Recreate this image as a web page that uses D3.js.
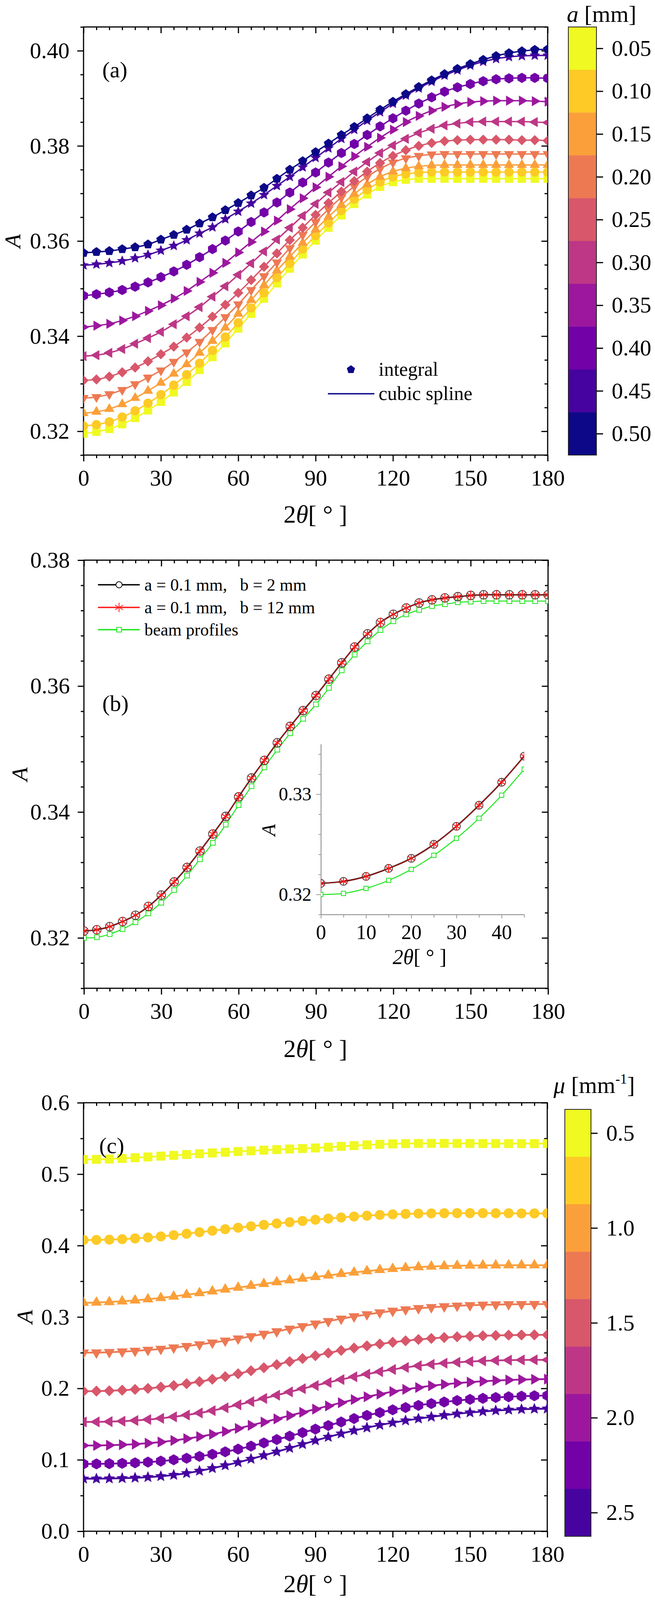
<!DOCTYPE html>
<html>
<head>
<meta charset="utf-8">
<script src="https://cdn.jsdelivr.net/npm/d3@7"></script>
<style>
  html, body { margin: 0; padding: 0; background: #fff; }
  svg { display: block; font-family: "Liberation Serif", "Times New Roman", serif; }
</style>
</head>
<body>
<svg id="fig" width="1678" height="4100"></svg>
<script>
// ---- data ----
const angles = [0,5,10,15,20,25,30,35,40,45,50,55,60,65,70,75,80,85,90,95,100,105,110,115,120,125,130,135,140,145,150,155,160,165,170,175,180];
const xMajor = [0,30,60,90,120,150,180];
const xMinor = [5,10,15,20,25,35,40,45,50,55,65,70,75,80,85,95,100,105,110,115,125,130,135,140,145,155,160,165,170,175];

// panel (a): slit width a [mm]
const aLabels = ['0.05','0.10','0.15','0.20','0.25','0.30','0.35','0.40','0.45','0.50'];
const a005 = [0.3195,0.3199,0.3205,0.3215,0.3228,0.3244,0.3262,0.3282,0.3304,0.3329,0.3356,0.3385,0.3416,0.3447,0.3479,0.3511,0.3542,0.3572,0.3601,0.3628,0.3654,0.3678,0.3698,0.3714,0.3724,0.3729,0.3731,0.3731,0.3731,0.3731,0.3731,0.3731,0.3731,0.3731,0.3731,0.3731,0.3731];
const a010 = [0.3211,0.3214,0.3220,0.3230,0.3243,0.3259,0.3277,0.3297,0.3319,0.3343,0.3370,0.3398,0.3428,0.3459,0.3491,0.3523,0.3553,0.3583,0.3611,0.3638,0.3664,0.3688,0.3708,0.3724,0.3735,0.3741,0.3744,0.3745,0.3745,0.3745,0.3745,0.3745,0.3745,0.3745,0.3745,0.3745,0.3745];
const a015 = [0.3238,0.3241,0.3247,0.3257,0.3270,0.3285,0.3302,0.3321,0.3341,0.3365,0.3390,0.3418,0.3447,0.3476,0.3507,0.3538,0.3567,0.3596,0.3624,0.3651,0.3676,0.3699,0.3719,0.3735,0.3746,0.3753,0.3757,0.3759,0.3760,0.3760,0.3760,0.3760,0.3760,0.3760,0.3760,0.3760,0.3760];
const a020 = [0.3270,0.3272,0.3278,0.3287,0.3299,0.3313,0.3328,0.3346,0.3366,0.3388,0.3413,0.3440,0.3467,0.3497,0.3526,0.3555,0.3585,0.3613,0.3640,0.3667,0.3692,0.3715,0.3735,0.3752,0.3765,0.3774,0.3779,0.3782,0.3783,0.3783,0.3783,0.3783,0.3783,0.3783,0.3783,0.3783,0.3783];
const a025 = [0.3307,0.3309,0.3315,0.3324,0.3334,0.3347,0.3362,0.3378,0.3397,0.3418,0.3441,0.3466,0.3491,0.3518,0.3546,0.3574,0.3602,0.3628,0.3655,0.3680,0.3704,0.3726,0.3746,0.3764,0.3779,0.3791,0.3800,0.3806,0.3810,0.3812,0.3813,0.3813,0.3813,0.3813,0.3812,0.3812,0.3811];
const a030 = [0.3358,0.3360,0.3365,0.3373,0.3384,0.3396,0.3409,0.3425,0.3442,0.3461,0.3483,0.3505,0.3529,0.3553,0.3578,0.3603,0.3628,0.3653,0.3678,0.3702,0.3724,0.3746,0.3766,0.3785,0.3801,0.3815,0.3827,0.3836,0.3843,0.3847,0.3850,0.3851,0.3851,0.3851,0.3851,0.3850,0.3849];
const a035 = [0.3419,0.3422,0.3426,0.3433,0.3442,0.3453,0.3465,0.3479,0.3495,0.3514,0.3533,0.3554,0.3576,0.3598,0.3620,0.3643,0.3667,0.3690,0.3713,0.3735,0.3757,0.3778,0.3798,0.3817,0.3834,0.3850,0.3863,0.3874,0.3882,0.3888,0.3892,0.3894,0.3895,0.3895,0.3895,0.3894,0.3893];
const a040 = [0.3485,0.3488,0.3492,0.3497,0.3504,0.3513,0.3524,0.3536,0.3550,0.3566,0.3583,0.3601,0.3620,0.3640,0.3660,0.3681,0.3702,0.3723,0.3744,0.3765,0.3785,0.3804,0.3823,0.3841,0.3858,0.3874,0.3889,0.3902,0.3914,0.3923,0.3930,0.3936,0.3940,0.3942,0.3943,0.3943,0.3942];
const a045 = [0.3549,0.3551,0.3554,0.3558,0.3564,0.3571,0.3580,0.3590,0.3602,0.3616,0.3629,0.3646,0.3662,0.3679,0.3697,0.3716,0.3735,0.3755,0.3775,0.3795,0.3815,0.3834,0.3853,0.3871,0.3889,0.3906,0.3921,0.3935,0.3948,0.3959,0.3969,0.3977,0.3983,0.3987,0.3989,0.3990,0.3990];
const a050 = [0.3575,0.3577,0.3579,0.3583,0.3587,0.3593,0.3603,0.3613,0.3624,0.3637,0.3650,0.3665,0.3680,0.3696,0.3712,0.3731,0.3750,0.3768,0.3787,0.3805,0.3823,0.3840,0.3858,0.3876,0.3893,0.3909,0.3924,0.3938,0.3951,0.3962,0.3972,0.3981,0.3989,0.3995,0.3999,0.4002,0.4003];

// panel (b): beam size comparison
const bLegend = ['a = 0.1 mm,   b = 2 mm', 'a = 0.1 mm,   b = 12 mm', 'beam profiles'];
const b2mm  = [0.3211,0.3213,0.3218,0.3226,0.3236,0.3250,0.3268,0.3289,0.3312,0.3338,0.3365,0.3393,0.3424,0.3454,0.3482,0.3510,0.3536,0.3561,0.3585,0.3611,0.3637,0.3662,0.3683,0.3701,0.3714,0.3724,0.3732,0.3737,0.3740,0.3742,0.3744,0.3745,0.3745,0.3745,0.3745,0.3745,0.3745];
const b12mm = [0.3211,0.3213,0.3218,0.3226,0.3236,0.3250,0.3268,0.3289,0.3312,0.3338,0.3365,0.3393,0.3424,0.3454,0.3482,0.3510,0.3536,0.3561,0.3585,0.3611,0.3637,0.3662,0.3683,0.3701,0.3714,0.3724,0.3732,0.3737,0.3740,0.3742,0.3744,0.3745,0.3745,0.3745,0.3745,0.3745,0.3745];
const bProfile = [0.3200,0.3201,0.3206,0.3214,0.3225,0.3239,0.3256,0.3276,0.3299,0.3325,0.3351,0.3380,0.3411,0.3441,0.3471,0.3499,0.3525,0.3548,0.3571,0.3597,0.3625,0.3650,0.3671,0.3689,0.3703,0.3714,0.3721,0.3727,0.3730,0.3733,0.3734,0.3735,0.3735,0.3735,0.3735,0.3735,0.3735];
const insetAngles = [0,5,10,15,20,25,30,35,40,45];

// panel (c): attenuation mu [mm^-1]
const muLabels = ['0.5','0.75','1.0','1.25','1.5','1.75','2.0','2.25','2.5'];
const muTickLabels = ['0.5','1.0','1.5','2.0','2.5'];
const mu050 = [0.5205,0.5207,0.5212,0.5220,0.5230,0.5241,0.5252,0.5263,0.5275,0.5286,0.5297,0.5307,0.5317,0.5327,0.5336,0.5344,0.5352,0.5359,0.5367,0.5377,0.5389,0.5400,0.5410,0.5418,0.5424,0.5428,0.5430,0.5431,0.5431,0.5430,0.5430,0.5429,0.5429,0.5428,0.5428,0.5428,0.5428];
const mu075 = [0.4078,0.4079,0.4083,0.4090,0.4100,0.4113,0.4128,0.4146,0.4166,0.4187,0.4208,0.4229,0.4250,0.4270,0.4290,0.4309,0.4327,0.4345,0.4362,0.4378,0.4393,0.4407,0.4419,0.4429,0.4437,0.4443,0.4448,0.4451,0.4453,0.4454,0.4454,0.4454,0.4453,0.4452,0.4451,0.4450,0.4450];
const mu100 = [0.3200,0.3203,0.3210,0.3220,0.3233,0.3249,0.3267,0.3288,0.3311,0.3335,0.3360,0.3386,0.3412,0.3438,0.3464,0.3489,0.3514,0.3538,0.3561,0.3583,0.3604,0.3624,0.3643,0.3660,0.3675,0.3688,0.3699,0.3707,0.3713,0.3718,0.3721,0.3723,0.3724,0.3725,0.3725,0.3725,0.3725];
const mu125 = [0.2500,0.2502,0.2507,0.2515,0.2525,0.2538,0.2553,0.2571,0.2592,0.2615,0.2640,0.2667,0.2697,0.2729,0.2763,0.2798,0.2834,0.2870,0.2906,0.2941,0.2975,0.3007,0.3036,0.3062,0.3085,0.3105,0.3122,0.3136,0.3148,0.3157,0.3164,0.3170,0.3174,0.3177,0.3179,0.3180,0.3180];
const mu150 = [0.1960,0.1962,0.1967,0.1975,0.1986,0.2000,0.2018,0.2040,0.2066,0.2095,0.2128,0.2165,0.2205,0.2247,0.2290,0.2333,0.2376,0.2418,0.2458,0.2496,0.2532,0.2565,0.2595,0.2622,0.2646,0.2667,0.2685,0.2700,0.2713,0.2723,0.2731,0.2737,0.2742,0.2746,0.2748,0.2750,0.2750];
const mu175 = [0.1530,0.1531,0.1535,0.1541,0.1551,0.1564,0.1581,0.1602,0.1627,0.1656,0.1689,0.1728,0.1770,0.1814,0.1859,0.1905,0.1951,0.1996,0.2040,0.2083,0.2124,0.2163,0.2200,0.2234,0.2265,0.2293,0.2317,0.2337,0.2353,0.2366,0.2377,0.2385,0.2391,0.2395,0.2398,0.2400,0.2400];
const mu200 = [0.1200,0.1201,0.1205,0.1211,0.1220,0.1233,0.1250,0.1271,0.1296,0.1325,0.1358,0.1397,0.1440,0.1483,0.1528,0.1573,0.1619,0.1665,0.1710,0.1755,0.1800,0.1843,0.1883,0.1920,0.1955,0.1986,0.2013,0.2037,0.2057,0.2074,0.2088,0.2100,0.2110,0.2118,0.2124,0.2128,0.2130];
const mu225 = [0.0942,0.0943,0.0946,0.0951,0.0958,0.0968,0.0982,0.1000,0.1022,0.1048,0.1078,0.1112,0.1150,0.1192,0.1237,0.1284,0.1332,0.1381,0.1430,0.1480,0.1530,0.1578,0.1622,0.1662,0.1700,0.1732,0.1762,0.1788,0.1810,0.1830,0.1847,0.1861,0.1873,0.1883,0.1891,0.1897,0.1900];
const mu250 = [0.0735,0.0736,0.0738,0.0742,0.0748,0.0757,0.0770,0.0788,0.0812,0.0845,0.0882,0.0922,0.0965,0.1012,0.1062,0.1113,0.1165,0.1218,0.1270,0.1320,0.1367,0.1410,0.1450,0.1487,0.1520,0.1550,0.1577,0.1602,0.1625,0.1645,0.1662,0.1677,0.1690,0.1700,0.1708,0.1713,0.1716];

const seriesA = [a005, a010, a015, a020, a025, a030, a035, a040, a045, a050];
const seriesC = [mu050, mu075, mu100, mu125, mu150, mu175, mu200, mu225, mu250];

// marker shape by colour step (0 = darkest)
const markerKinds = ['pentagon','star','hexagon','triRight','triLeft','diamond','triDown','triUp','circle','square'];

// ---- helpers ----
const svg = d3.select('#fig');
svg.append('rect').attr('width', 1678).attr('height', 4100).attr('fill', '#fff');

// custom symbol types; size is used as radius^2
function polySymbol(n, rot, k) {
  return {
    draw(ctx, size) {
      const r = Math.sqrt(size) * k;
      for (let i = 0; i < n; i++) {
        const a = rot + i * 2 * Math.PI / n;
        const px = r * Math.sin(a), py = -r * Math.cos(a);
        if (i) ctx.lineTo(px, py); else ctx.moveTo(px, py);
      }
      ctx.closePath();
    }
  };
}
const symbolTypes = {
  circle: { draw(ctx, size) { const r = Math.sqrt(size) * 0.95; ctx.moveTo(r, 0); ctx.arc(0, 0, r, 0, 2 * Math.PI); } },
  square: polySymbol(4, Math.PI / 4, 1.2),
  diamond: polySymbol(4, 0, 1.05),
  triUp: polySymbol(3, 0, 1.2),
  triDown: polySymbol(3, Math.PI, 1.2),
  triRight: polySymbol(3, Math.PI / 2, 1.2),
  triLeft: polySymbol(3, -Math.PI / 2, 1.2),
  pentagon: polySymbol(5, 0, 1.0),
  hexagon: polySymbol(6, 0, 1.05),
  star: {
    draw(ctx, size) {
      const r = Math.sqrt(size) * 1.15;
      for (let i = 0; i < 10; i++) {
        const rr = i % 2 ? r * 0.45 : r;
        const a = i * Math.PI / 5;
        const px = rr * Math.sin(a), py = -rr * Math.cos(a);
        if (i) ctx.lineTo(px, py); else ctx.moveTo(px, py);
      }
      ctx.closePath();
    }
  },
  asterisk: {
    draw(ctx, size) {
      const r = Math.sqrt(size);
      [90, 30, 150].forEach(deg => {
        const a = deg * Math.PI / 180;
        ctx.moveTo(r * Math.cos(a), -r * Math.sin(a));
        ctx.lineTo(-r * Math.cos(a), r * Math.sin(a));
      });
    }
  },
  openSquare: polySymbol(4, Math.PI / 4, 1.0)
};

function styleAxis(g, size, width) {
  g.select('.domain').remove();
  g.selectAll('line').attr('stroke', '#000').attr('stroke-width', width || 3);
  g.attr('font-family', '"Liberation Serif", serif').attr('font-size', size || 58);
  g.selectAll('text').attr('fill', '#000');
}

let clipId = 0;
function drawFrame(x, y, yMajor, yMinor, fmt) {
  const [x0, x1] = x.range();
  const [y1, y0] = y.range();
  const g = svg.append('g');
  // minor ticks
  g.append('g').attr('transform', `translate(0,${y1})`)
    .call(d3.axisBottom(x).tickValues(xMinor).tickSize(8).tickFormat('')).call(styleAxis);
  g.append('g').attr('transform', `translate(0,${y0})`)
    .call(d3.axisTop(x).tickValues(xMinor).tickSize(-8).tickFormat('')).call(styleAxis);
  g.append('g').attr('transform', `translate(${x0},0)`)
    .call(d3.axisLeft(y).tickValues(yMinor).tickSize(8).tickFormat('')).call(styleAxis);
  g.append('g').attr('transform', `translate(${x1},0)`)
    .call(d3.axisRight(y).tickValues(yMinor).tickSize(-8).tickFormat('')).call(styleAxis);
  // major ticks
  g.append('g').attr('transform', `translate(0,${y1})`)
    .call(d3.axisBottom(x).tickValues(xMajor).tickSize(16).tickPadding(21)).call(styleAxis);
  g.append('g').attr('transform', `translate(0,${y0})`)
    .call(d3.axisTop(x).tickValues(xMajor).tickSize(-16).tickFormat('')).call(styleAxis);
  g.append('g').attr('transform', `translate(${x0},0)`)
    .call(d3.axisLeft(y).tickValues(yMajor).tickSize(16).tickPadding(20).tickFormat(d3.format(fmt))).call(styleAxis);
  g.append('g').attr('transform', `translate(${x1},0)`)
    .call(d3.axisRight(y).tickValues(yMajor).tickSize(-16).tickFormat('')).call(styleAxis);
  g.append('rect').attr('x', x0).attr('y', y0).attr('width', x1 - x0).attr('height', y1 - y0)
    .attr('fill', 'none').attr('stroke', '#000').attr('stroke-width', 3);
  const id = 'clip' + (clipId++);
  svg.append('clipPath').attr('id', id).append('rect')
    .attr('x', x0).attr('y', y0).attr('width', x1 - x0).attr('height', y1 - y0);
  return id;
}

function xTitle(cx, baseline, size, italicTwo) {
  const t = svg.append('text').attr('x', cx).attr('y', baseline).attr('text-anchor', 'middle')
    .attr('font-size', size).attr('fill', '#000');
  t.append('tspan').text('2').attr('font-style', italicTwo ? 'italic' : 'normal');
  t.append('tspan').text('\u03b8').attr('font-style', 'italic');
  t.append('tspan').text('[ \u00b0 ]');
}
function yTitle(cx, cy, size) {
  svg.append('text').attr('transform', `translate(${cx},${cy}) rotate(-90)`)
    .attr('text-anchor', 'middle').attr('font-size', size).attr('font-style', 'italic')
    .attr('fill', '#000').text('A');
}
function panelLabel(x, y, s) {
  svg.append('text').attr('x', x).attr('y', y).attr('font-size', 58).attr('fill', '#000').text(s);
}

function drawSeries(x, y, values, xs, color, kind, clip, r, lw) {
  const g = svg.append('g').attr('clip-path', `url(#${clip})`);
  const line = d3.line().x((d, i) => x(xs[i])).y(d => y(d)).curve(d3.curveNatural);
  g.append('path').datum(values).attr('d', line).attr('fill', 'none')
    .attr('stroke', color).attr('stroke-width', lw);
  g.selectAll('path.mk').data(values).join('path').attr('class', 'mk')
    .attr('transform', (d, i) => `translate(${x(xs[i])},${y(d)})`)
    .attr('d', d3.symbol(symbolTypes[kind], r * r))
    .attr('fill', color);
}

function colorbar(labels, tickLabels, x0, x1, y0, y1, colorOf) {
  const band = d3.scaleBand().domain(labels).range([y0, y1]);
  const g = svg.append('g');
  g.selectAll('rect').data(labels).join('rect')
    .attr('x', x0).attr('width', x1 - x0)
    .attr('y', d => band(d)).attr('height', band.bandwidth() + 0.5)
    .attr('fill', (d, i) => colorOf(i));
  g.append('rect').attr('x', x0).attr('y', y0).attr('width', x1 - x0).attr('height', y1 - y0)
    .attr('fill', 'none').attr('stroke', '#222').attr('stroke-width', 2);
  const pos = d3.scalePoint().domain(labels).range([y0 + band.bandwidth() / 2, y1 - band.bandwidth() / 2]);
  svg.append('g').attr('transform', `translate(${x1},0)`)
    .call(d3.axisRight(pos).tickValues(tickLabels).tickSize(17).tickPadding(22))
    .call(styleAxis);
}

// ================= panel (a) =================
const xA = d3.scaleLinear().domain([0, 180]).range([214, 1403]);
const yA = d3.scaleLinear().domain([0.315, 0.405]).range([1165, 69]);
const clipA = drawFrame(xA, yA, [0.32, 0.34, 0.36, 0.38, 0.40],
  [0.315, 0.325, 0.33, 0.335, 0.345, 0.35, 0.355, 0.365, 0.37, 0.375, 0.385, 0.39, 0.395, 0.405], '.2f');
const colorA = i => d3.interpolatePlasma(1 - i / 9);
seriesA.forEach((vals, i) => drawSeries(xA, yA, vals, angles, colorA(i), markerKinds[9 - i], clipA, 12.5, 3.5));
panelLabel(262, 198, '(a)');
yTitle(52, 617, 58);
xTitle(808, 1338, 64, false);
// legend (a)
svg.append('path').attr('transform', 'translate(899,946)')
  .attr('d', d3.symbol(symbolTypes.pentagon, 11 * 11)).attr('fill', colorA(9));
svg.append('text').attr('x', 970).attr('y', 962).attr('font-size', 50).attr('fill', '#000').text('integral');
svg.append('line').attr('x1', 840).attr('x2', 959).attr('y1', 1008).attr('y2', 1008)
  .attr('stroke', colorA(9)).attr('stroke-width', 3.5);
svg.append('text').attr('x', 970).attr('y', 1024).attr('font-size', 50).attr('fill', '#000').text('cubic spline');
// colorbar (a)
colorbar(aLabels, aLabels, 1456, 1528, 69, 1165, colorA);
const cbTitleA = svg.append('text').attr('x', 1452).attr('y', 56).attr('font-size', 60).attr('fill', '#000');
cbTitleA.append('tspan').attr('font-style', 'italic').text('a');
cbTitleA.append('tspan').text(' [mm]');

// ================= panel (b) =================
const xB = d3.scaleLinear().domain([0, 180]).range([215, 1404]);
const yB = d3.scaleLinear().domain([0.312, 0.38]).range([2530, 1434]);
const clipB = drawFrame(xB, yB, [0.32, 0.34, 0.36, 0.38],
  [0.312, 0.316, 0.324, 0.328, 0.332, 0.336, 0.344, 0.348, 0.352, 0.356, 0.364, 0.368, 0.372, 0.376], '.2f');
const green = '#1ee61e', red = '#ff1a1a';

function drawB(x, y, xs, clip, sz) {
  const n = xs.length;
  const g = svg.append('g').attr('clip-path', `url(#${clip})`);
  const line = d3.line().x((d, i) => x(xs[i])).y(d => y(d)).curve(d3.curveNatural);
  g.append('path').datum(bProfile.slice(0, n)).attr('d', line).attr('fill', 'none').attr('stroke', green).attr('stroke-width', 2.5);
  g.selectAll('path.gs').data(bProfile.slice(0, n)).join('path').attr('class', 'gs')
    .attr('transform', (d, i) => `translate(${x(xs[i])},${y(d)})`)
    .attr('d', d3.symbol(symbolTypes.openSquare, sz * sz * 0.62))
    .attr('fill', '#fff').attr('stroke', green).attr('stroke-width', 2);
  g.append('path').datum(b2mm.slice(0, n)).attr('d', line).attr('fill', 'none').attr('stroke', '#000').attr('stroke-width', 3.5);
  g.append('path').datum(b12mm.slice(0, n)).attr('d', line).attr('fill', 'none').attr('stroke', red).attr('stroke-width', 1.8).attr('opacity', 0.85);
  g.selectAll('circle.bc').data(b2mm.slice(0, n)).join('circle').attr('class', 'bc')
    .attr('cx', (d, i) => x(xs[i])).attr('cy', d => y(d)).attr('r', sz)
    .attr('fill', 'none').attr('stroke', '#333').attr('stroke-width', 1.8);
  g.selectAll('path.ra').data(b12mm.slice(0, n)).join('path').attr('class', 'ra')
    .attr('transform', (d, i) => `translate(${x(xs[i])},${y(d)})`)
    .attr('d', d3.symbol(symbolTypes.asterisk, sz * sz * 1.25))
    .attr('fill', 'none').attr('stroke', red).attr('stroke-width', 2.5);
}
drawB(xB, yB, angles, clipB, 11);
panelLabel(262, 1820, '(b)');
yTitle(70, 1982, 58);
xTitle(808, 2706, 64, false);

// legend (b)
const legRows = [1497, 1555, 1612];
const legColors = ['#000', red, green];
legRows.forEach((ly, i) => {
  svg.append('line').attr('x1', 251).attr('x2', 358).attr('y1', ly).attr('y2', ly)
    .attr('stroke', legColors[i]).attr('stroke-width', 3.5);
  svg.append('text').attr('x', 370).attr('y', ly + 15).attr('font-size', 44).attr('fill', '#000')
    .attr('xml:space', 'preserve').style('white-space', 'pre').text(bLegend[i]);
});
svg.append('circle').attr('cx', 305).attr('cy', legRows[0]).attr('r', 8)
  .attr('fill', '#fff').attr('stroke', '#000').attr('stroke-width', 2);
svg.append('path').attr('transform', `translate(305,${legRows[1]})`)
  .attr('d', d3.symbol(symbolTypes.asterisk, 12 * 12)).attr('fill', 'none').attr('stroke', red).attr('stroke-width', 2);
svg.append('path').attr('transform', `translate(305,${legRows[2]})`)
  .attr('d', d3.symbol(symbolTypes.openSquare, 8.5 * 8.5)).attr('fill', '#fff').attr('stroke', green).attr('stroke-width', 2);

// inset (b)
const xI = d3.scaleLinear().domain([0, 45]).range([822, 1343]);
const yI = d3.scaleLinear().domain([0.318, 0.335]).range([2341, 1905]);
function insetAxis(g, size) {
  g.select('.domain').attr('stroke', '#999').attr('stroke-width', 2);
  g.selectAll('line').attr('stroke', '#999').attr('stroke-width', 2);
  g.attr('font-family', '"Liberation Serif", serif').attr('font-size', size);
  g.selectAll('text').attr('fill', '#000');
}
svg.append('g').attr('transform', 'translate(0,2341)')
  .call(d3.axisBottom(xI).tickValues([5, 15, 25, 35, 45]).tickSize(8).tickFormat('').tickSizeOuter(0))
  .call(g => insetAxis(g, 52));
svg.append('g').attr('transform', 'translate(0,2341)')
  .call(d3.axisBottom(xI).tickValues([0, 10, 20, 30, 40]).tickSize(10).tickPadding(16).tickSizeOuter(0))
  .call(g => insetAxis(g, 52));
svg.append('g').attr('transform', 'translate(822,0)')
  .call(d3.axisLeft(yI).tickValues([0.318, 0.322, 0.324, 0.326, 0.328, 0.332, 0.334]).tickSize(6).tickFormat('').tickSizeOuter(0))
  .call(g => insetAxis(g, 48));
svg.append('g').attr('transform', 'translate(822,0)')
  .call(d3.axisLeft(yI).tickValues([0.32, 0.33]).tickSize(12).tickPadding(12).tickFormat(d3.format('.2f')).tickSizeOuter(0))
  .call(g => insetAxis(g, 48));
svg.append('clipPath').attr('id', 'clipI').append('rect')
  .attr('x', 822).attr('y', 1905).attr('width', 521).attr('height', 436);
drawB(xI, yI, insetAngles, 'clipI', 10);
yTitle(705, 2125, 50);
xTitle(1075, 2468, 54, true);

// ================= panel (c) =================
const xC = d3.scaleLinear().domain([0, 180]).range([214, 1402]);
const yC = d3.scaleLinear().domain([0, 0.6]).range([3920, 2823]);
const clipC = drawFrame(xC, yC, [0, 0.1, 0.2, 0.3, 0.4, 0.5, 0.6],
  [0.05, 0.15, 0.25, 0.35, 0.45, 0.55], '.1f');
const colorC = i => d3.interpolatePlasma(1 - i / 9);
seriesC.forEach((vals, i) => drawSeries(xC, yC, vals, angles, colorC(i), markerKinds[9 - i], clipC, 13.5, 4.5));
panelLabel(254, 2952, '(c)');
yTitle(83, 3371, 58);
xTitle(808, 4076, 64, false);
colorbar(muLabels, muTickLabels, 1447, 1514, 2840, 3933, colorC);
const cbTitleC = svg.append('text').attr('x', 1418).attr('y', 2798).attr('font-size', 60).attr('fill', '#000');
cbTitleC.append('tspan').attr('font-style', 'italic').text('\u03bc');
cbTitleC.append('tspan').text(' [mm');
cbTitleC.append('tspan').attr('font-size', 36).attr('dy', -24).text('-1');
cbTitleC.append('tspan').attr('dy', 24).text(']');
</script>
</body>
</html>
